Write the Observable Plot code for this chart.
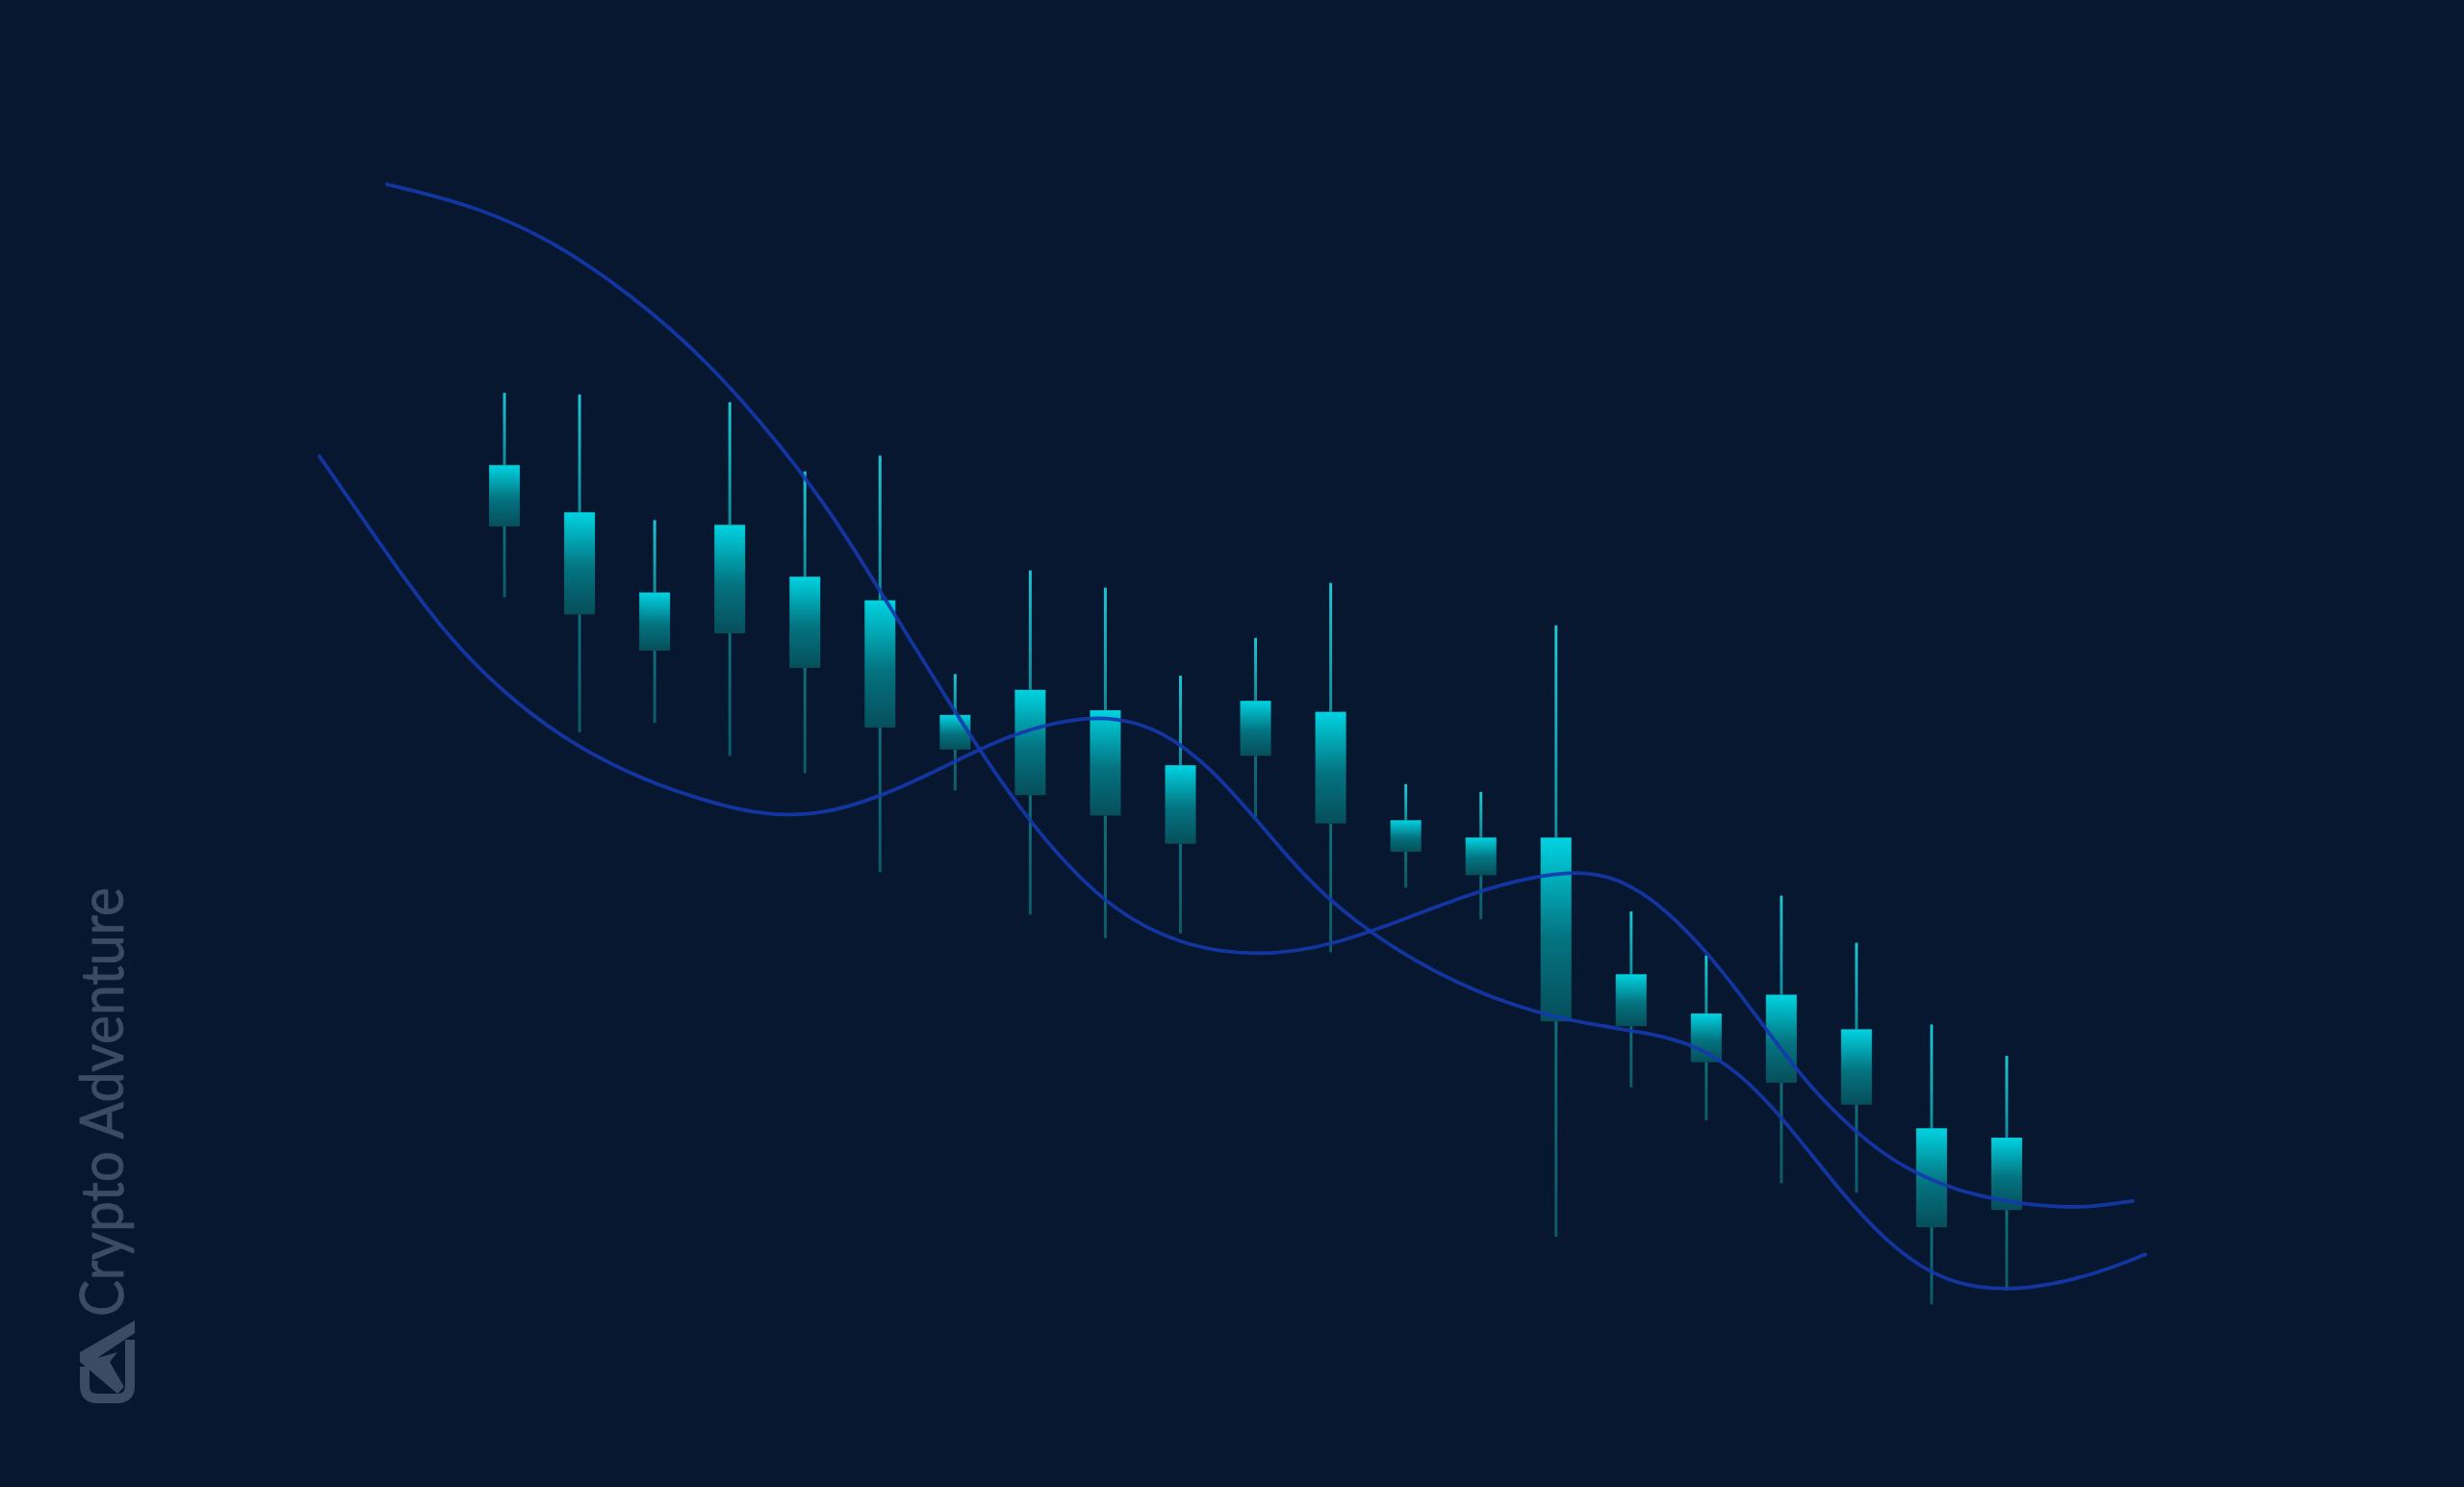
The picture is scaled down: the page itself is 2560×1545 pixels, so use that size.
<!DOCTYPE html>
<html>
<head>
<meta charset="utf-8">
<script src="https://cdn.jsdelivr.net/npm/d3@7"></script>
<script src="https://cdn.jsdelivr.net/npm/@observablehq/plot@0.6"></script>
<style>
  html, body { margin: 0; padding: 0; background: #081730; overflow: hidden; }
  #wrap { position: relative; width: 2560px; height: 1545px; }
  #wrap > svg { position: absolute; left: 0; top: 0; }
</style>
</head>
<body>
<div id="wrap"></div>
<script>
// ---- Candles (session index, prices) ----
const session = [1,2,3,4,5,6,7,8,9,10,11,12,13,14,15,16,17,18,19,20,21];
const high  = [75.0,74.9,66.9,74.4,70.0,71.0,57.1,63.7,62.6,57.0,59.4,62.9,50.1,49.6,60.2,42.0,39.2,43.0,40.0,34.8,32.8];
const open  = [70.4,67.4,62.3,66.6,63.3,61.8,54.5,56.1,54.8,51.3,55.4,54.7,47.8,46.7,46.7,38.0,35.5,36.7,34.5,28.2,27.6];
const close = [66.5,60.9,58.6,59.7,57.5,53.7,52.3,49.4,48.1,46.3,51.9,47.6,45.8,44.3,35.0,34.7,32.4,31.1,29.7,21.9,23.0];
const low   = [62.0,53.4,54.0,51.9,50.8,44.5,49.7,41.8,40.3,40.6,48.0,39.4,43.5,41.5,21.3,30.8,28.7,24.7,24.1,17.0,17.9];

// ---- Smoothed trend curves (time in session units, price) ----
const upperT = [-0.57,0.56,1.61,2.65,3.70,4.74,5.37,6.00,6.63,7.26,7.88,8.51,9.14,9.97,11.02,12.07,13.11,14.16,15.20,15.83,16.46,17.09,17.72,18.34,18.97,19.60,20.44,21.48,22.11,22.67];
const upperV = [88.3,87.0,84.8,81.4,77.1,71.3,67.2,62.4,57.5,52.7,48.4,44.8,42.0,39.9,39.1,39.9,41.8,43.7,44.7,44.2,42.2,39.0,35.0,31.0,28.0,25.7,24.0,23.2,23.2,23.6];
const lowerT = [-1.47,-0.69,0.14,0.98,1.82,2.65,3.49,4.33,5.16,6.00,6.84,7.67,8.51,9.14,9.77,10.39,11.02,11.65,12.28,13.11,14.16,15.20,16.25,16.88,17.51,18.13,18.76,19.39,20.02,20.64,21.27,21.90,22.42,22.84];
const lowerV = [71.0,65.6,60.0,55.9,52.9,50.8,49.3,48.2,48.1,49.3,51.2,53.2,54.3,54.4,53.5,51.2,47.8,44.2,41.5,38.8,36.4,35.0,34.3,33.5,31.5,28.2,24.3,21.0,18.8,18.0,18.0,18.6,19.4,20.2];

const watermark = "Crypto Adventure";

const candles = session.map((s, k) => ({s, high: high[k], open: open[k], close: close[k], low: low[k]}));
const upper = upperT.map((t, k) => ({t, v: upperV[k]}));
const lower = lowerT.map((t, k) => ({t, v: lowerV[k]}));

const bodyHalf = 0.205;
const wickHalf = 0.019;

const defs = () => {
  const ns = "http://www.w3.org/2000/svg";
  const d = document.createElementNS(ns, "defs");
  d.innerHTML = `
    <linearGradient id="bodyGrad" x1="0" y1="0" x2="0" y2="1">
      <stop offset="0" stop-color="#00d3e1"/>
      <stop offset="0.55" stop-color="#047380"/>
      <stop offset="1" stop-color="#064f5b"/>
    </linearGradient>
    <linearGradient id="upWick" x1="0" y1="0" x2="0" y2="1">
      <stop offset="0" stop-color="#1cc4d3"/>
      <stop offset="1" stop-color="#0f8b99"/>
    </linearGradient>
    <linearGradient id="loWick" x1="0" y1="0" x2="0" y2="1">
      <stop offset="0" stop-color="#0f6c78"/>
      <stop offset="1" stop-color="#0c5a66"/>
    </linearGradient>`;
  return d;
};

const chart = Plot.plot({
  width: 2560,
  height: 1545,
  margin: 0,
  style: {background: "#081730", overflow: "visible"},
  x: {type: "linear", domain: [-5.716, 27.088], axis: null},
  y: {type: "linear", domain: [5.37, 100], axis: null},
  marks: [
    defs,
    Plot.rect(candles, {x1: d => d.s - wickHalf, x2: d => d.s + wickHalf, y1: "open", y2: "high", fill: "url(#upWick)"}),
    Plot.rect(candles, {x1: d => d.s - wickHalf, x2: d => d.s + wickHalf, y1: "low", y2: "close", fill: "url(#loWick)"}),
    Plot.rect(candles, {x1: d => d.s - bodyHalf, x2: d => d.s + bodyHalf, y1: "close", y2: "open", fill: "url(#bodyGrad)"}),
    Plot.line(upper, {x: "t", y: "v", curve: "basis", stroke: "#1539ad", strokeWidth: 3.8, strokeOpacity: 0.9}),
    Plot.line(lower, {x: "t", y: "v", curve: "basis", stroke: "#1539ad", strokeWidth: 3.8, strokeOpacity: 0.9})
  ]
});

const wrap = document.getElementById("wrap");
wrap.appendChild(chart);

// watermark overlay
const ns = "http://www.w3.org/2000/svg";
const wm = document.createElementNS(ns, "svg");
wm.setAttribute("width", 2560);
wm.setAttribute("height", 1545);
wm.innerHTML = `
  <g fill="#3b4b64">
    <text transform="translate(128,1368) rotate(-90)" font-family="Lato, 'Open Sans', sans-serif" font-size="61" font-weight="400" stroke="#3b4b64" stroke-width="0.8" textLength="446" lengthAdjust="spacingAndGlyphs">${watermark}</text>
  </g>
  <g fill="none" stroke="#3b4b64" stroke-width="10" stroke-linejoin="round" stroke-linecap="butt">
    <path d="M88,1420 V1440 Q88,1453 101,1453 H122 Q135,1453 135,1440 V1392"/>
  </g>
  <path fill="#3b4b64" d="M140,1372 L140,1385 L101,1411 L122,1405 L114,1415 L129,1441 L122,1448 L83,1415 L83,1405 Z"/>
`;
wrap.appendChild(wm);
</script>
</body>
</html>
